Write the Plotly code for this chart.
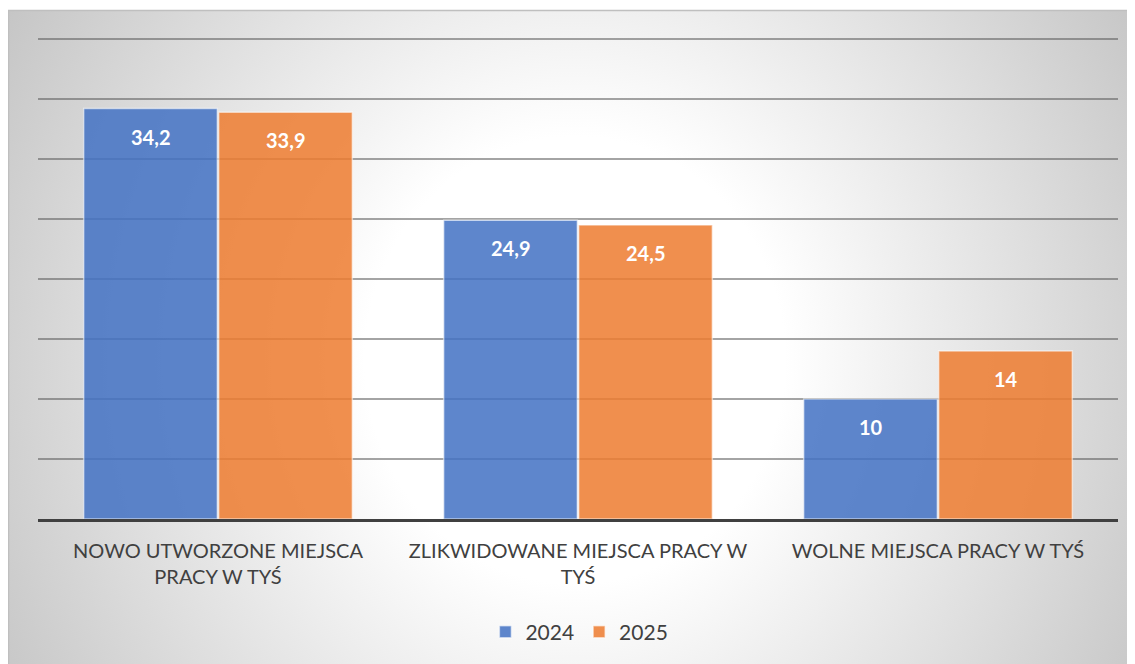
import plotly.graph_objects as go

# dane (tys. miejsc pracy)
categories = [
    "NOWO UTWORZONE MIEJSCA<br>PRACY W TYŚ",
    "ZLIKWIDOWANE MIEJSCA PRACY W<br>TYŚ",
    "WOLNE MIEJSCA PRACY W TYŚ",
]
years = ["2024", "2025"]
values_2024 = [34.2, 24.9, 10]
values_2025 = [33.9, 24.5, 14]

# strona ma 8px marginesu body, więc figura jest o 8px mniejsza
W, H = 1127, 656
X0, X1 = 30, 1110   # obszar wykresu w px
Y_MAX = 40.1        # trochę ponad 40, żeby górna linia siatki była widoczna
PX_PER_UNIT = 12
Y1 = 511            # położenie zera
Y0 = Y1 - Y_MAX * PX_PER_UNIT
TOP = 2             # biały pasek nad ramką
BARGAP = 0.25

colors = ["rgba(68,114,196,0.86)", "rgba(237,125,49,0.86)"]


def fmt(v):
    return f"{v:g}".replace(".", ",")


fig = go.Figure()

# tło z gradientem radialnym (osobna oś na całą stronę)
cx, cy, rx, ry = 567, 352, 700, 745
fig.add_trace(go.Scatter(
    x=[cx - rx, cx + rx, cx + rx, cx - rx, cx - rx],
    y=[cy - ry, cy - ry, cy + ry, cy + ry, cy - ry],
    fill="toself",
    mode="lines",
    line=dict(width=0),
    fillgradient=dict(
        type="radial",
        colorscale=[[0, "#ffffff"], [0.3, "#ffffff"], [1, "#c0c0c0"]],
    ),
    hoverinfo="skip",
    showlegend=False,
    xaxis="x",
    yaxis="y",
))

for year, vals, col in zip(years, [values_2024, values_2025], colors):
    fig.add_trace(go.Bar(
        x=categories,
        y=vals,
        name=year,
        marker=dict(color=col, line=dict(color="rgba(255,255,255,0.55)", width=1.5)),
        xaxis="x2",
        yaxis="y2",
        hoverinfo="skip",
    ))

# etykiety wartości wewnątrz słupków
cat_px = (X1 - X0) / len(categories)
bar_px = cat_px * (1 - BARGAP) / len(years)
annotations = []
for i, (year, vals) in enumerate(zip(years, [values_2024, values_2025])):
    shift = (i - (len(years) - 1) / 2) * bar_px
    for cat, v in zip(categories, vals):
        annotations.append(dict(
            x=cat, y=v, xref="x2", yref="y2",
            text=f"<b>{fmt(v)}</b>",
            showarrow=False,
            xshift=shift, yshift=-28,
            font=dict(family="Lato", size=20, color="white"),
        ))

fig.update_layout(
    width=W,
    height=H,
    margin=dict(l=0, r=0, t=0, b=0),
    paper_bgcolor="white",
    plot_bgcolor="rgba(0,0,0,0)",
    font=dict(family="Lato", color="#404040"),
    barmode="group",
    bargap=BARGAP,
    bargroupgap=0.01,
    xaxis=dict(domain=[0, 1], range=[0, W], visible=False, fixedrange=True),
    yaxis=dict(domain=[0, 1 - TOP / H], range=[H, TOP], visible=False, fixedrange=True),
    xaxis2=dict(
        domain=[X0 / W, X1 / W],
        anchor="y2",
        showline=True,
        linecolor="#404040",
        linewidth=3,
        ticks="outside",
        ticklen=12,
        tickcolor="rgba(0,0,0,0)",
        tickfont=dict(family="Lato", size=20, color="#404040"),
        showgrid=False,
    ),
    yaxis2=dict(
        domain=[1 - Y1 / H, 1 - Y0 / H],
        anchor="x2",
        range=[0, Y_MAX],
        dtick=5,
        showgrid=True,
        gridcolor="rgba(90,90,90,0.55)",
        gridwidth=1.5,
        zeroline=False,
        showticklabels=False,
    ),
    legend=dict(
        orientation="h",
        x=0.507, xanchor="center",
        y=(H - 624) / H, yanchor="middle",
        font=dict(family="Lato", size=21, color="#404040"),
        bgcolor="rgba(0,0,0,0)",
    ),
    annotations=annotations,
    shapes=[dict(
        type="rect", xref="paper", yref="paper",
        x0=0.5 / W, x1=1.2, y0=-0.2, y1=1 - (TOP + 0.5) / H,
        line=dict(color="#bfbfbf", width=1.5),
        layer="above",
    )],
)

fig.write_html("out.html")
